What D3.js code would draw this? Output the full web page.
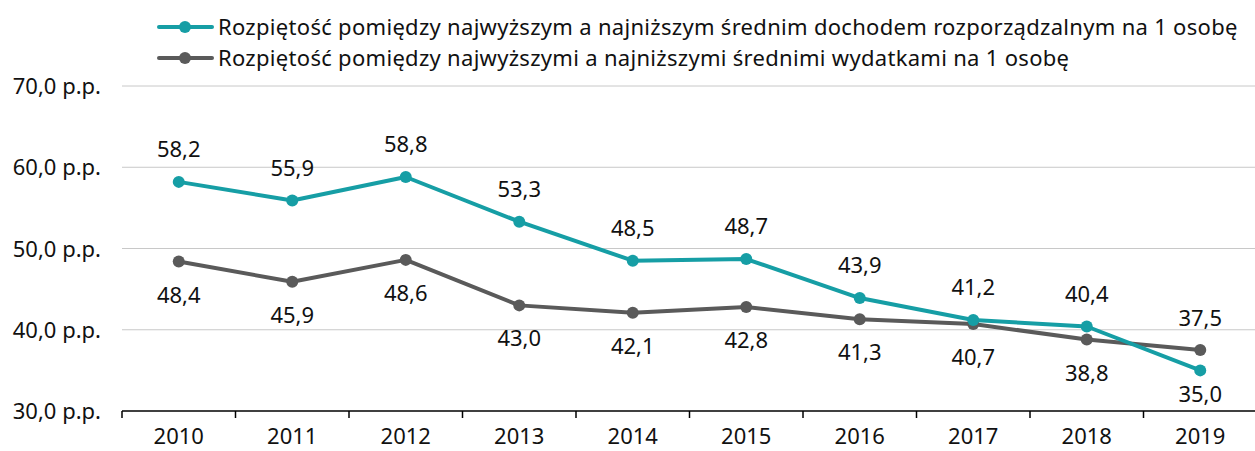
<!DOCTYPE html>
<html>
<head>
<meta charset="utf-8">
<script src="https://cdn.jsdelivr.net/npm/d3@7"></script>
<style>
  body { margin: 0; background: #fff; }
  text { font-family: "Noto Sans", "Open Sans", sans-serif; fill: #111; }
</style>
</head>
<body>
<svg id="chart" width="1255" height="451"></svg>
<script>
const years = ["2010","2011","2012","2013","2014","2015","2016","2017","2018","2019"];
const incomeGap = [58.2, 55.9, 58.8, 53.3, 48.5, 48.7, 43.9, 41.2, 40.4, 35.0];
const spendingGap = [48.4, 45.9, 48.6, 43.0, 42.1, 42.8, 41.3, 40.7, 38.8, 37.5];
const yTicks = [30, 40, 50, 60, 70];
const seriesNames = [
  "Rozpiętość pomiędzy najwyższym a najniższym średnim dochodem rozporządzalnym na 1 osobę",
  "Rozpiętość pomiędzy najwyższymi a najniższymi średnimi wydatkami na 1 osobę"
];

const teal = "#169ea5";
const grey = "#5a5a5a";
const fs = 22;
const fmt = v => v.toFixed(1).replace(".", ",");

const svg = d3.select("#chart");

const x = d3.scaleBand().domain(years).range([122, 1257]);
const y = d3.scaleLinear().domain([30, 70]).range([411, 86]);

// gridlines
svg.append("g")
  .selectAll("line")
  .data(yTicks.slice(1))
  .join("line")
    .attr("x1", 122).attr("x2", 1255)
    .attr("y1", d => y(d)).attr("y2", d => y(d))
    .attr("stroke", "#c8c8c8").attr("stroke-width", 1);

// y labels
svg.append("g")
  .selectAll("text")
  .data(yTicks)
  .join("text")
    .attr("x", 101)
    .attr("y", d => y(d) + 8)
    .attr("text-anchor", "end")
    .attr("font-size", fs)
    .text(d => fmt(d) + " p.p.");

// x axis
const xAxisG = svg.append("g");
xAxisG.append("line")
  .attr("x1", 122).attr("x2", 1255)
  .attr("y1", 411).attr("y2", 411)
  .attr("stroke", "#000").attr("stroke-width", 1.5);
xAxisG.selectAll(".tk")
  .data(years)
  .join("line")
    .attr("class", "tk")
    .attr("x1", d => x(d)).attr("x2", d => x(d))
    .attr("y1", 411).attr("y2", 418)
    .attr("stroke", "#000").attr("stroke-width", 1.5);
xAxisG.selectAll("text")
  .data(years)
  .join("text")
    .attr("x", d => x(d) + x.bandwidth() / 2)
    .attr("y", 444)
    .attr("text-anchor", "middle")
    .attr("font-size", fs)
    .text(d => d);

const cx = d => x(d) + x.bandwidth() / 2;
const line = d3.line().x((d, i) => cx(years[i])).y(d => y(d));

function drawSeries(values, colour, offset) {
  const g = svg.append("g");
  g.append("path")
    .datum(values)
    .attr("d", line)
    .attr("fill", "none")
    .attr("stroke", colour)
    .attr("stroke-width", 4)
    .attr("stroke-linejoin", "round");
  g.selectAll("circle")
    .data(values)
    .join("circle")
      .attr("cx", (d, i) => cx(years[i]))
      .attr("cy", d => y(d))
      .attr("r", 6)
      .attr("fill", colour);
  g.selectAll("text")
    .data(values)
    .join("text")
      .attr("x", (d, i) => cx(years[i]))
      .attr("y", (d, i) => y(d) + offset(i))
      .attr("text-anchor", "middle")
      .attr("font-size", fs)
      .text(d => fmt(d));
}

drawSeries(spendingGap, grey, i => i === 9 ? -24 : 41);
drawSeries(incomeGap, teal, i => i === 9 ? 32 : -25);

// legend
const legend = svg.append("g");
[teal, grey].forEach((c, i) => {
  const ly = 27 + i * 31;
  legend.append("line")
    .attr("x1", 159).attr("x2", 212)
    .attr("y1", ly).attr("y2", ly)
    .attr("stroke", c).attr("stroke-width", 4)
    .attr("stroke-linecap", "round");
  legend.append("circle")
    .attr("cx", 185).attr("cy", ly).attr("r", 6).attr("fill", c);
  legend.append("text")
    .attr("x", 218).attr("y", ly + 8)
    .attr("font-size", fs)
    .attr("letter-spacing", 0.3)
    .text(seriesNames[i]);
});
</script>
</body>
</html>
